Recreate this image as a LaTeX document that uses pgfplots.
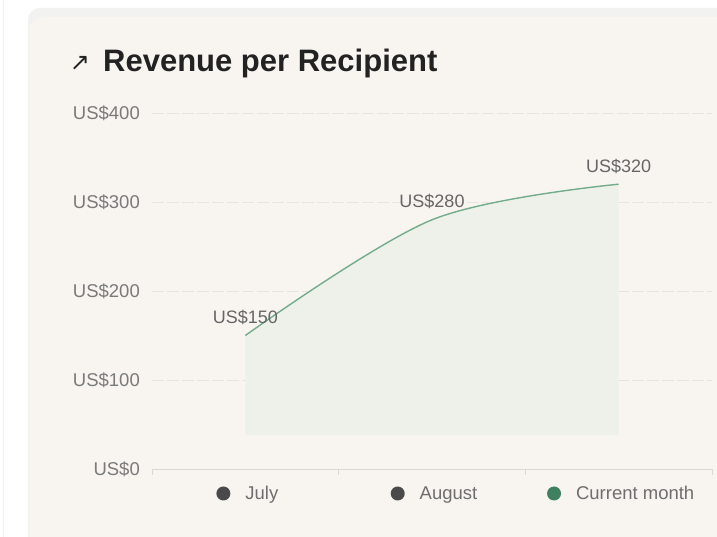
\documentclass[border=0pt]{standalone}
\usepackage{pgfplots}
\pgfplotsset{compat=1.18}
\usepgfplotslibrary{fillbetween}
\usepackage{fontspec}
\setmainfont{Liberation Sans}
\newfontfamily\symfont{DejaVu Sans}
\definecolor{cardbg}{HTML}{F8F5F1}
\definecolor{cardedge}{HTML}{F2F2F0}
\definecolor{titlecol}{HTML}{222222}
\definecolor{gridcol}{HTML}{E8E5E0}
\definecolor{axiscol}{HTML}{DAD8D4}
\definecolor{tickcol}{HTML}{7A7A7A}
\definecolor{labcol}{HTML}{666666}
\definecolor{legcol}{HTML}{6E6E6E}
\definecolor{linecol}{HTML}{74AC8B}
\definecolor{fillcol}{HTML}{EDF1EA}
\definecolor{dotgray}{HTML}{4A4A4A}
\definecolor{dotgreen}{HTML}{3F8060}
\newcommand{\dotc}[1]{\tikz[baseline=-6.5pt]\fill[#1] (0pt,0pt) circle (7pt);}
\begin{document}
\begin{tikzpicture}[x=1pt,y=1pt]
\pgfplotsset{set layers}
\begin{pgfonlayer}{axis background}
\fill[white] (0,0) rectangle (717,537);
\draw[black!6, line width=1pt] (3.5,0) -- (3.5,537);
\fill[cardedge, rounded corners=12pt] (28,-20) rectangle (740,529);
\fill[cardbg, rounded corners=12pt] (30,-20) rectangle (740,520);
\end{pgfonlayer}
\node[anchor=center, inner sep=0pt, font=\symfont\fontsize{24}{28}\selectfont, text=titlecol] at (80,474) {↗};
\node[anchor=base west, inner sep=0pt, font=\bfseries\fontsize{31}{36}\selectfont, text=titlecol] at (103,465) {Revenue per Recipient};
\begin{axis}[
  at={(152pt,68pt)}, anchor=south west,
  scale only axis, width=560pt, height=356pt,
  xmin=-0.5, xmax=2.5, ymin=0, ymax=400,
  clip=false,
  /pgf/number format/assume math mode=true,
  axis x line*=bottom, axis y line*=left,
  y axis line style={draw=none},
  x axis line style={draw=axiscol, line width=0.9pt, -},
  ytick={0,100,200,300,400},
  yticklabels={US\$0,US\$100,US\$200,US\$300,US\$400},
  yticklabel style={font=\fontsize{18.5}{22}\selectfont, text=tickcol, anchor=east, inner sep=0pt, xshift=-12pt},
  ymajorgrids,
  grid style={draw=gridcol, line width=0.9pt, dash pattern=on 12pt off 3pt},
  xtick={0,1,2},
  xticklabels={{\dotc{dotgray}\hspace{15pt}July},{\dotc{dotgray}\hspace{15pt}August},{\dotc{dotgreen}\hspace{15pt}Current month}},
  xticklabel style={font=\fontsize{18.5}{22}\selectfont, text=legcol, anchor=base, inner sep=0pt, yshift=-31pt, xshift=2pt},
  major tick length=0pt,
  extra x ticks={-0.5,0.5,1.5,2.5},
  extra x tick labels={},
  extra x tick style={major tick length=6pt, tick align=outside, xtick style={draw=axiscol, line width=0.9pt}},
]
\addplot[name path=curve, draw=linecol, line width=1.4pt, smooth, tension=0.55, mark=none,
  nodes near coords={US\$\pgfmathprintnumber{\pgfplotspointmeta}},
  every node near coord/.append style={font=\fontsize{18}{21}\selectfont, text=labcol, anchor=base, inner sep=0pt, yshift=12pt}]
  coordinates {(0,150) (1,280) (2,320)};
\path[name path=base] (axis cs:0,38) -- (axis cs:2,38);
\addplot[fill=fillcol, draw=none] fill between[of=curve and base];
\end{axis}
\pgfresetboundingbox
\useasboundingbox (0,0) rectangle (717,537);
\end{tikzpicture}
\end{document}
